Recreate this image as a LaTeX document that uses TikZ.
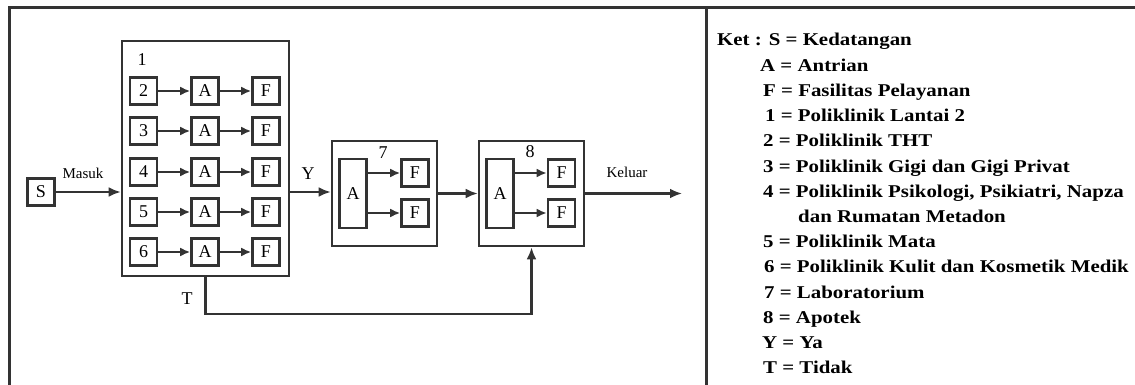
\documentclass[tikz,border=0pt]{standalone}
\usepackage{fontspec}
\setmainfont{Liberation Serif}
\newfontfamily\legfont[FakeStretch=1.16]{Liberation Serif}
\usetikzlibrary{arrows.meta}
\begin{document}
\begin{tikzpicture}[x=1pt,y=-1pt,
  box/.style={draw=black!80,line width=2.6pt,minimum width=27pt,minimum height=27pt,inner sep=0pt,font=\fontsize{18}{18}\selectfont},
  grp/.style={draw=black!80,line width=2.6pt,inner sep=0pt},
  arr/.style={draw=black!80,line width=2.4pt,-{Latex[length=12pt,width=10pt]}},
  sarr/.style={draw=black!80,line width=2.2pt,-{Latex[length=10pt,width=9pt]}},
  lbl/.style={font=\fontsize{18}{18}\selectfont,inner sep=0pt},
  slbl/.style={font=\fontsize{15}{15}\selectfont,inner sep=0pt},
  leg/.style={anchor=base west,inner sep=0pt,font=\legfont\bfseries\fontsize{18}{18}\selectfont},
  frame/.style={draw=black!80,line width=3pt}]
\useasboundingbox (0,0) rectangle (1135,385);
% frame
\coordinate (tl) at (9,8);
\coordinate (tr) at (1135,8);
\coordinate (bl) at (9,385);
\coordinate (dt) at (706,8);
\coordinate (db) at (706,385);
\draw[frame] (bl) -- (tl) -- (tr);
\draw[frame] (dt) -- (db);
% source
\node[box] (s) at (41,192) {S};
\node[slbl] (masuk) at (83,173) {Masuk};
% group 1
\node[grp,minimum width=167pt,minimum height=235pt] (b1) at (205.5,158.5) {};
\node[lbl] (l1) at (142,60) {1};
\foreach \n/\y in {2/91,3/131,4/172,5/212,6/252} {
  \node[box] (n\n) at (143.5,\y) {\n};
  \node[box] (a\n) at (205,\y) {A};
  \node[box] (f\n) at (266,\y) {F};
  \draw[sarr] (n\n) -- (a\n);
  \draw[sarr] (a\n) -- (f\n);
}
\draw[arr] (s) -- (s -| b1.west);
% group 7
\node[grp,minimum width=105pt,minimum height=105pt] (b7) at (384.5,193.5) {};
\node[lbl] (l7) at (383,153) {7};
\node[box,minimum height=69pt] (a7) at (353,193.5) {A};
\node[box] (f7a) at (415,173) {F};
\node[box] (f7b) at (415,213) {F};
\draw[sarr] (a7.east |- f7a) -- (f7a);
\draw[sarr] (a7.east |- f7b) -- (f7b);
% group 8
\node[grp,minimum width=105pt,minimum height=105pt] (b8) at (531.5,193.5) {};
\node[lbl] (l8) at (530,152) {8};
\node[box,minimum height=69pt] (a8) at (500,193.5) {A};
\node[box] (f8a) at (561.5,173) {F};
\node[box] (f8b) at (561.5,213) {F};
\draw[sarr] (a8.east |- f8a) -- (f8a);
\draw[sarr] (a8.east |- f8b) -- (f8b);
% flow arrows
\draw[arr] (b1.east |- s) -- (b7.west |- s);
\node[lbl] (ly) at (308,174) {Y};
\draw[arr] (b7) -- (b8);
\coordinate (out) at (682,193.5);
\draw[arr] (b8) -- (out);
\node[slbl] (keluar) at (627,172) {Keluar};
\coordinate (tt) at (205,314);
\draw[arr] (b1.south) |- (b8.south |- tt) -- (b8.south);
\node[lbl] (lt) at (187,299) {T};
% legend
\node[leg] (k0) at (717,46) {Ket : S = Kedatangan};
\node[leg] (k1) at (760,71.2) {A = Antrian};
\node[leg] (k2) at (763,96.4) {F = Fasilitas Pelayanan};
\node[leg] (k3) at (765,121.6) {1 = Poliklinik Lantai 2};
\node[leg] (k4) at (763,146.8) {2 = Poliklinik THT};
\node[leg] (k5) at (763,172) {3 = Poliklinik Gigi dan Gigi Privat};
\node[leg] (k6) at (763,197.2) {4 = Poliklinik Psikologi, Psikiatri, Napza};
\node[leg] (k7) at (798,222.4) {dan Rumatan Metadon};
\node[leg] (k8) at (763,247.6) {5 = Poliklinik Mata};
\node[leg] (k9) at (764,272.8) {6 = Poliklinik Kulit dan Kosmetik Medik};
\node[leg] (k10) at (764,298) {7 = Laboratorium};
\node[leg] (k11) at (763,323.2) {8 = Apotek};
\node[leg] (k12) at (762,348.4) {Y = Ya};
\node[leg] (k13) at (763,373.6) {T = Tidak};
\end{tikzpicture}
\end{document}
